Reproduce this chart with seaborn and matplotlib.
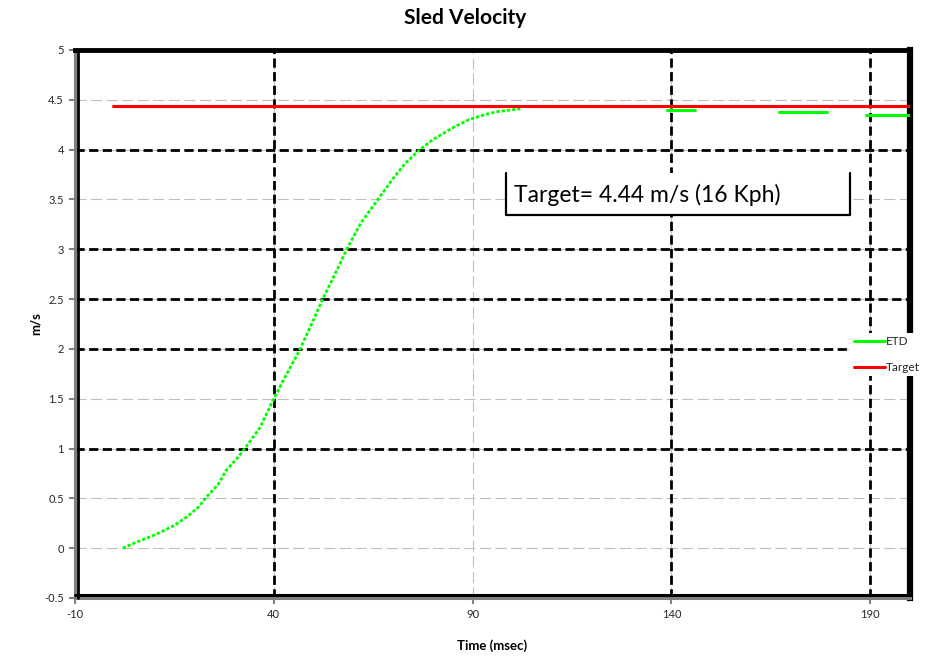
import numpy as np
import pandas as pd
import matplotlib
matplotlib.use("Agg")
import matplotlib.pyplot as plt
import matplotlib.transforms as mtrans
from matplotlib.lines import Line2D
from matplotlib.patches import Rectangle
import seaborn as sns

# ---- data ----
curve_x = [2, 6, 8, 11, 15, 18, 21, 23, 26, 28, 30.5, 32.7, 36.5, 40, 43, 46.5,
           49.5, 52.3, 55, 58.6, 62, 66, 70, 73, 76.7, 80, 85, 89, 93, 96, 102]
curve_y = [0.0, 0.07, 0.10, 0.15, 0.23, 0.31, 0.41, 0.51, 0.64, 0.78, 0.89, 1.0,
           1.21, 1.5, 1.73, 1.99, 2.25, 2.5, 2.72, 3.02, 3.27, 3.49, 3.71, 3.86,
           4.0, 4.1, 4.22, 4.30, 4.35, 4.38, 4.41]
flat_x = [[106, 128], [139, 146], [167, 179], [189, 200]]
flat_y = [[4.435, 4.435], [4.40, 4.40], [4.38, 4.38], [4.35, 4.35]]
target_x = [-0.5, 200]
target_y = [4.44, 4.44]
x_ticks = [-10, 40, 90, 140, 190]
y_ticks = [-0.5, 0, 0.5, 1, 1.5, 2, 2.5, 3, 3.5, 4, 4.5, 5]
y_tick_labels = ["-0.5", "0", "0.5", "1", "1.5", "2", "2.5", "3", "3.5", "4", "4.5", "5"]
black_grid_y = [1, 2, 2.5, 3, 4]
black_grid_x = [40, 140, 190]
title = "Sled Velocity"
xlabel = "Time (msec)"
ylabel = "m/s"
note = "Target= 4.44 m/s (16 Kph)"
legend_labels = ["ETD", "Target"]

GREEN = "#00FF00"
RED = "#FF0000"

sns.set_theme(style="white")
plt.rcParams["font.family"] = ["Lato", "DejaVu Sans"]
plt.rcParams["axes.unicode_minus"] = False

fig = plt.figure(figsize=(9.34, 6.6), dpi=100)
ax = fig.add_axes([75 / 934, 1 - 598 / 660, (910 - 75) / 934, (598 - 50) / 660])

# gray grid
ax.set_xlim(-10, 200)
ax.set_ylim(-0.5, 5)
ax.set_xticks(x_ticks)
ax.set_yticks(y_ticks)
ax.set_yticklabels(y_tick_labels)
ax.grid(True, color="#BFBFBF", linestyle=(0, (10, 4)), linewidth=0.8, zorder=0)
ax.set_axisbelow(True)

for yv in black_grid_y:
    ax.axhline(yv, color="black", linestyle=(0, (3.3, 1.6)), linewidth=2, zorder=1)
for xv in black_grid_x:
    ax.axvline(xv, color="black", linestyle=(0, (3.3, 1.6)), linewidth=2, zorder=1)

# ETD curve
df_curve = pd.DataFrame({"x": curve_x, "y": curve_y})
sns.lineplot(data=df_curve, x="x", y="y", ax=ax, color=GREEN, linewidth=2.0,
             linestyle=(0, (1.2, 0.7)), estimator=None, sort=False, zorder=3)

rows = []
for i, (xs, ys) in enumerate(zip(flat_x, flat_y)):
    for xv, yv in zip(xs, ys):
        rows.append({"x": xv, "y": yv, "seg": i})
df_flat = pd.DataFrame(rows)
sns.lineplot(data=df_flat, x="x", y="y", units="seg", estimator=None, ax=ax,
             color=GREEN, linewidth=2.2, sort=False, zorder=3)

df_t = pd.DataFrame({"x": target_x, "y": target_y})
sns.lineplot(data=df_t, x="x", y="y", ax=ax, color=RED, linewidth=2.2,
             estimator=None, zorder=4)

# spines / frame
for s in ["left", "bottom"]:
    ax.spines[s].set_color("#808080")
    ax.spines[s].set_linewidth(2.2)
ax.spines["top"].set_color("black")
ax.spines["top"].set_linewidth(3.5)
ax.spines["right"].set_color("black")
ax.spines["right"].set_linewidth(4.5)
off_x = mtrans.ScaledTranslation(2 / 72, 0, fig.dpi_scale_trans)
off_y = mtrans.ScaledTranslation(0, 2 / 72, fig.dpi_scale_trans)
ax.add_line(Line2D([0, 0], [0, 1], transform=ax.transAxes + off_x, color="black",
                   linewidth=2, zorder=5, clip_on=False))
ax.add_line(Line2D([0, 1], [0, 0], transform=ax.transAxes + off_y, color="black",
                   linewidth=2.2, zorder=5, clip_on=False))

ax.tick_params(axis="both", which="both", direction="out", length=4, width=1.5,
               color="#808080", labelsize=8, labelcolor="#262626", pad=4,
               left=True, bottom=True)

ax.set_xlabel(xlabel, fontsize=9.5, fontweight="bold", labelpad=14, color="black")
ax.set_ylabel(ylabel, fontsize=9.5, fontweight="bold", labelpad=2, color="black")
fig.text(465 / 934, 1 - 18 / 660, title, ha="center", va="center", fontsize=15,
         fontweight="bold", color="black")

# annotation bracket box (white filled, open top)
L, R, T, B = 506 / 934, 850 / 934, 1 - 173 / 660, 1 - 215 / 660
fig.add_artist(Rectangle((L, B), R - L, T - B, transform=fig.transFigure,
                         facecolor="white", edgecolor="none", zorder=3))
fig.add_artist(Line2D([L, L, R, R], [T, B, B, T], transform=fig.transFigure,
                      color="black", linewidth=1.6, zorder=4))
fig.text(514 / 934, 1 - 195 / 660, note, ha="left", va="center", fontsize=16.5,
         color="black", zorder=5)

# legend
handles = [Line2D([], [], color=GREEN, linewidth=2.2),
           Line2D([], [], color=RED, linewidth=2.2)]
leg = fig.legend(handles, legend_labels, loc="upper left",
                 bbox_to_anchor=(851 / 934, 1 - 333 / 660), frameon=True,
                 fontsize=8.5, handlelength=2.6, handletextpad=0.1,
                 labelspacing=1.3, borderpad=0.25, borderaxespad=0,
                 facecolor="white", edgecolor="none", fancybox=False)
leg.get_frame().set_alpha(1)

fig.savefig("out.png", dpi=100)
